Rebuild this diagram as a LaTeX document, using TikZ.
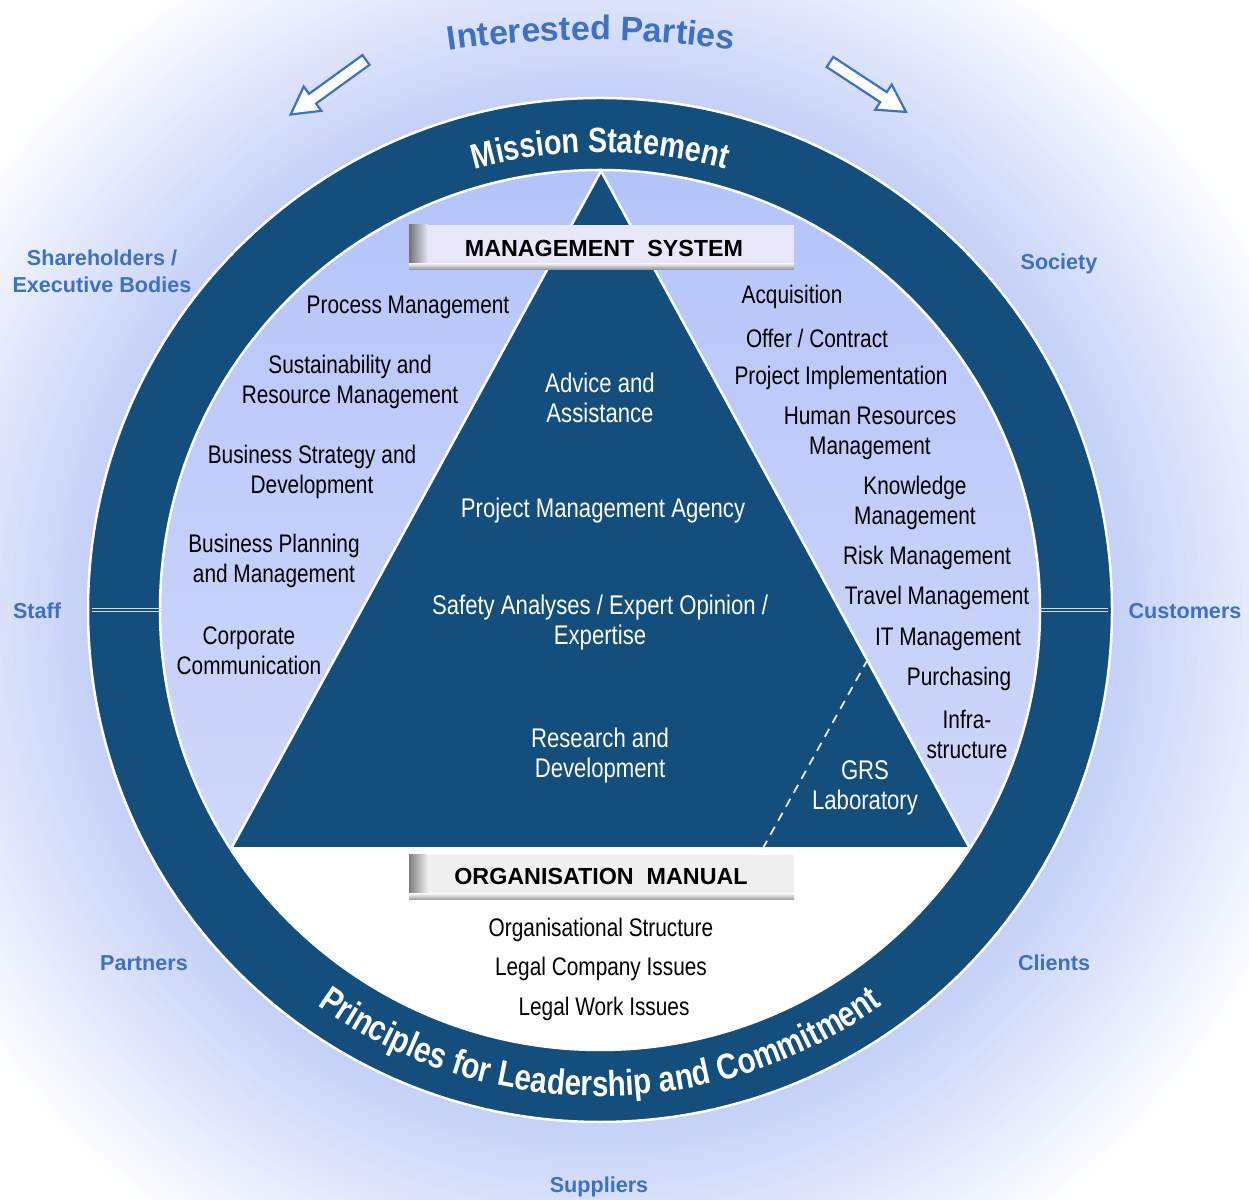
\documentclass[tikz,border=0pt]{standalone}
\usepackage{fontspec}
\setmainfont{Liberation Sans}
\newfontfamily\narrowfont[FakeStretch=0.82]{Liberation Sans}
\usetikzlibrary{decorations.text}
\definecolor{ringblue}{RGB}{20,78,124}
\definecolor{ringbg}{RGB}{196,208,248}
\definecolor{innertop}{RGB}{180,196,250}
\definecolor{innerbot}{RGB}{208,216,250}
\definecolor{labelblue}{RGB}{62,112,198}
\definecolor{msfill}{RGB}{232,232,250}
\definecolor{omfill}{RGB}{240,240,240}
\tikzset{
  bodytext/.style={font=\narrowfont\fontsize{25.4}{30}\selectfont, align=center, text=black, inner sep=0pt},
  tritext/.style={bodytext, font=\narrowfont\fontsize{27}{30}\selectfont, text=white},
  party/.style={font=\bfseries\fontsize{21.6}{27}\selectfont, text=labelblue, align=center, inner sep=0pt},
  boxtitle/.style={font=\bfseries\fontsize{23.3}{27}\selectfont, text=black, inner sep=0pt},
  hollowarrow/.style={draw=labelblue, line width=2.2pt, fill=white, line join=miter},
}
\begin{document}
\begin{tikzpicture}[x=1pt,y=1pt]
\useasboundingbox (0,0) rectangle (1249,1199);
\coordinate (C) at (600,589);
% background
\begin{scope}
\clip (0,0) rectangle (1249,1199);
\fill[white] (0,0) rectangle (1249,1199);
\foreach \r in {756,750,...,512} {
  \pgfmathsetmacro\p{(756-\r)/2.44}
  \fill[ringbg!\p!white] (C) circle (\r);
}
\end{scope}
% ring
\fill[ringblue] (C) circle (512);
\draw[white, line width=2.5pt] (C) circle (512);
% inner region
\begin{scope}
\clip (C) circle (440);
\shade[top color=innertop, bottom color=innerbot] (150,352) rectangle (1050,1040);
\fill[white] (150,140) rectangle (1050,352);
\end{scope}
\draw[white, line width=2.5pt] (C) circle (440);
% separator lines in ring
\coordinate (sl1) at (92,590); \coordinate (sl2) at (161,590);
\coordinate (sl3) at (92,587); \coordinate (sl4) at (161,587);
\coordinate (sr1) at (1040,590); \coordinate (sr2) at (1108,590);
\coordinate (sr3) at (1040,587); \coordinate (sr4) at (1108,587);
\draw[white!80!ringblue, line width=1pt] (sl1) -- (sl2) (sl3) -- (sl4) (sr1) -- (sr2) (sr3) -- (sr4);
% triangle
\coordinate (apex) at (601,1028);
\coordinate (bl) at (232,352);
\coordinate (br) at (969,352);
\fill[ringblue] (apex) -- (bl) -- (br) -- cycle;
\draw[white, line width=2.5pt, line join=miter] (bl) -- (apex) -- (br);
% dashed line
\coordinate (d1) at (868,540);
\coordinate (d2) at (763,351);
\draw[white!85!gray, line width=1.8pt, dash pattern=on 9pt off 7pt] (d1) -- (d2);
% management system box
\fill[msfill] (409,929) rectangle (794,974);
\shade[left color=black!55, right color=msfill] (409,929) rectangle (428,974);
\shade[top color=msfill, bottom color=black!45] (409,929) rectangle (794,935);
\node[boxtitle] (ms) at (604,951) {MANAGEMENT\ \ SYSTEM};
% organisation manual box
\fill[omfill] (409,299) rectangle (794,344);
\shade[left color=black!50, right color=omfill] (409,299) rectangle (428,344);
\shade[top color=omfill, bottom color=black!40] (409,299) rectangle (794,305);
\node[boxtitle] (om) at (601,323) {ORGANISATION\ \ MANUAL};
% left texts
\node[bodytext] (l1) at (408,892) {Process Management};
\node[bodytext] (l2) at (350,817.5) {Sustainability and\\Resource Management};
\node[bodytext] (l3) at (312,727) {Business Strategy and\\Development};
\node[bodytext] (l4) at (274,638) {Business Planning\\and Management};
\node[bodytext] (l5) at (249,548) {Corporate\\Communication};
% triangle texts
\node[tritext] (t1) at (600,801) {Advice and\\Assistance};
\node[tritext] (t2) at (603,688) {Project Management Agency};
\node[tritext] (t3) at (600,576.5) {Safety Analyses / Expert Opinion /\\Expertise};
\node[tritext] (t4) at (600,443) {Research and\\Development};
\node[tritext] (t5) at (865,411.5) {GRS\\Laboratory};
% right texts
\node[bodytext] (r1) at (792,902) {Acquisition};
\node[bodytext] (r2) at (817,861) {Offer / Contract};
\node[bodytext] (r3) at (841,821) {Project Implementation};
\node[bodytext] (r4) at (870,765.5) {Human Resources\\Management};
\node[bodytext] (r5) at (915,696) {Knowledge\\Management};
\node[bodytext] (r6) at (927,641) {Risk Management};
\node[bodytext] (r7) at (937,601) {Travel Management};
\node[bodytext] (r8) at (948,560) {IT Management};
\node[bodytext] (r9) at (959,520) {Purchasing};
\node[bodytext] (r10) at (967,465) {Infra-\\structure};
% bottom texts
\node[bodytext] (b1) at (601,269) {Organisational Structure};
\node[bodytext] (b2) at (601,230) {Legal Company Issues};
\node[bodytext] (b3) at (604,190) {Legal Work Issues};
% outer parties
\node[party] (p1) at (102,927.5) {Shareholders /\\Executive Bodies};
\node[party] (p2) at (1059,935) {Society};
\node[party] (p3) at (37,588) {Staff};
\node[party] (p4) at (1185,588) {Customers};
\node[party] (p5) at (144,236) {Partners};
\node[party] (p6) at (1054,236) {Clients};
\node[party] (p7) at (599,12) {Suppliers};
% curved texts
\path[decorate, decoration={text along path, text align=center,
  text={|\narrowfont\bfseries\fontsize{35}{40}\selectfont\color{white}|Mission Statement}}]
  (C) ++(120:458) arc (120:60:458);
\path[decorate, decoration={text along path, text align=center,
  text={|\narrowfont\bfseries\fontsize{36}{40}\selectfont\color{white}|Principles for Leadership and Commitment}}]
  (C) ++(210:486) arc (210:330:486);
\coordinate (IPc) at (591,159);
\path[decorate, decoration={text along path, text align=center,
  text={|\bfseries\fontsize{34}{40}\selectfont\color{labelblue}|Interested Parties}}]
  (IPc) ++(100:1000) arc (100:80:1000);
% hollow arrows
\begin{scope}[shift={(366,1139)}, rotate=215.9]
\draw[hollowarrow] (0,6) -- (66,6) -- (66,15) -- (93,0) -- (66,-15) -- (66,-6) -- (0,-6) -- cycle;
\end{scope}
\begin{scope}[shift={(830,1137)}, rotate=-33.3]
\draw[hollowarrow] (0,6) -- (64,6) -- (64,15) -- (91,0) -- (64,-15) -- (64,-6) -- (0,-6) -- cycle;
\end{scope}
\end{tikzpicture}
\end{document}
